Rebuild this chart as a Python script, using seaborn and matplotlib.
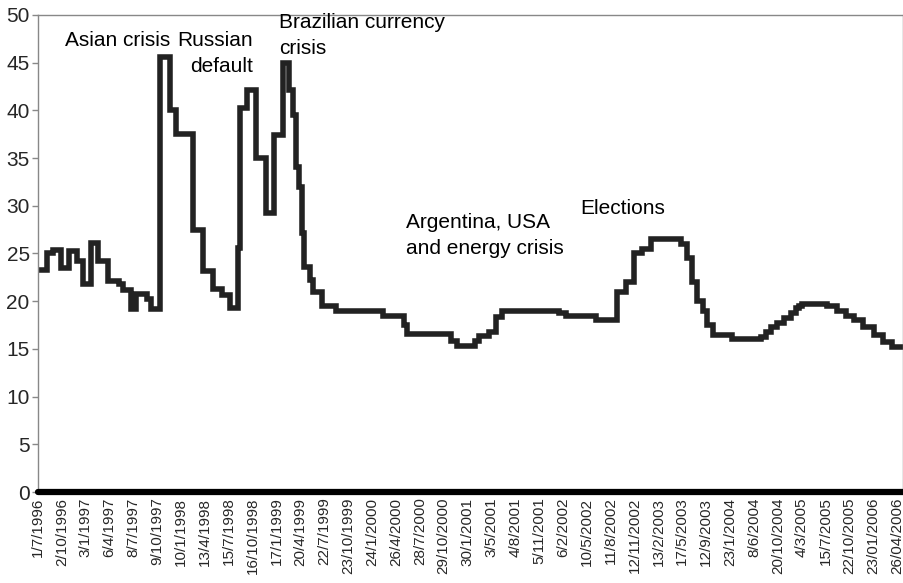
import numpy as np
import pandas as pd
import matplotlib
matplotlib.use("Agg")
import matplotlib.pyplot as plt
import seaborn as sns

# Daily observation number at which the rate changed, and the new rate (% p.a.)
change_obs = [0, 24, 42, 64, 85, 105, 123, 144, 164, 191, 221, 232, 252, 268,
              296, 309, 332, 359, 377, 422, 450, 477, 500, 522, 545, 551, 569,
              593, 622, 642, 667, 684, 694, 702, 711, 720, 724, 740, 749, 774,
              812, 941, 998, 1006, 1125, 1142, 1189, 1202, 1229, 1248, 1265,
              1420, 1438, 1520, 1578, 1601, 1624, 1646, 1669, 1751, 1769, 1782,
              1796, 1811, 1823, 1838, 1891, 1968, 1982, 1996, 2014, 2032, 2050,
              2064, 2072, 2082, 2149, 2175, 2200, 2222, 2247, 2277, 2301, 2326]
rate = [23.3, 25.1, 25.4, 23.5, 25.3, 24.2, 21.8, 26.1, 24.2, 22.1, 21.8, 21.2,
        19.2, 20.8, 20.2, 19.2, 45.6, 40.0, 37.5, 27.5, 23.2, 21.3, 20.6, 19.3,
        25.6, 40.2, 42.1, 35.0, 29.2, 37.4, 45.0, 42.1, 39.5, 34.1, 32.0, 27.1,
        23.6, 22.2, 21.0, 19.5, 19.0, 18.5, 17.5, 16.6, 15.8, 15.3, 15.8, 16.3,
        16.8, 18.3, 19.0, 18.8, 18.5, 18.0, 21.0, 22.0, 25.0, 25.5, 26.5, 26.0,
        24.5, 22.0, 20.0, 19.0, 17.5, 16.5, 16.0, 16.25, 16.75, 17.25, 17.75,
        18.25, 18.75, 19.25, 19.5, 19.75, 19.5, 19.0, 18.5, 18.0, 17.25, 16.5,
        15.75, 15.25]
last_obs = 2356

# Category labels shown every 65 observations
date_labels = ["1/7/1996", "2/10/1996", "3/1/1997", "6/4/1997", "8/7/1997",
               "9/10/1997", "10/1/1998", "13/4/1998", "15/7/1998", "16/10/1998",
               "17/1/1999", "20/4/1999", "22/7/1999", "23/10/1999", "24/1/2000",
               "26/4/2000", "28/7/2000", "29/10/2000", "30/1/2001", "3/5/2001",
               "4/8/2001", "5/11/2001", "6/2/2002", "10/5/2002", "11/8/2002",
               "12/11/2002", "13/2/2003", "17/5/2003", "12/9/2003", "23/1/2004",
               "8/6/2004", "20/10/2004", "4/3/2005", "15/7/2005", "22/10/2005",
               "23/01/2006", "26/04/2006"]
label_step = 65

events = ["Asian crisis", "Russian\ndefault", "Brazilian currency\ncrisis",
          "Argentina, USA\nand energy crisis", "Elections"]
event_obs = [73, 585, 656, 1001, 1477]
event_y = [48.3, 48.3, 50.2, 29.2, 30.7]
event_ha = ["left", "right", "left", "left", "left"]

sns.set_theme(style="white")
plt.rcParams["font.family"] = ["Liberation Sans", "DejaVu Sans"]

df = pd.DataFrame({"obs": change_obs + [last_obs], "rate": rate + [rate[-1]]})

fig = plt.figure(figsize=(9.04, 5.83), dpi=100)
ax = fig.add_axes([38 / 904, 91 / 583, 865 / 904, 477 / 583])

sns.lineplot(data=df, x="obs", y="rate", ax=ax, color="#222222",
             linewidth=4.0, drawstyle="steps-post", sort=False,
             solid_joinstyle="miter")

# Dense category tick marks merge into a thick band along zero
ax.axhline(0, color="black", linewidth=4.5, clip_on=False, zorder=5)

ax.set_xlim(0, last_obs)
ax.set_ylim(0, 50)
ax.set_yticks(np.arange(0, 51, 5))
ax.set_xticks(np.arange(len(date_labels)) * label_step)
ax.set_xticklabels(date_labels, rotation=90, fontsize=11)
ax.tick_params(axis="x", length=0, pad=4)
ax.tick_params(axis="y", length=4, width=1, color="#888888", pad=2,
               labelsize=15, left=True, direction="out")
ax.set_xlabel("")
ax.set_ylabel("")

for side in ["left", "top", "right", "bottom"]:
    ax.spines[side].set_color("#888888")
    ax.spines[side].set_linewidth(1)

for txt, xo, yv, ha in zip(events, event_obs, event_y, event_ha):
    ax.text(xo, yv, txt, ha=ha, va="top", fontsize=15, color="black",
            linespacing=1.45)

fig.savefig("out.png", dpi=100)
